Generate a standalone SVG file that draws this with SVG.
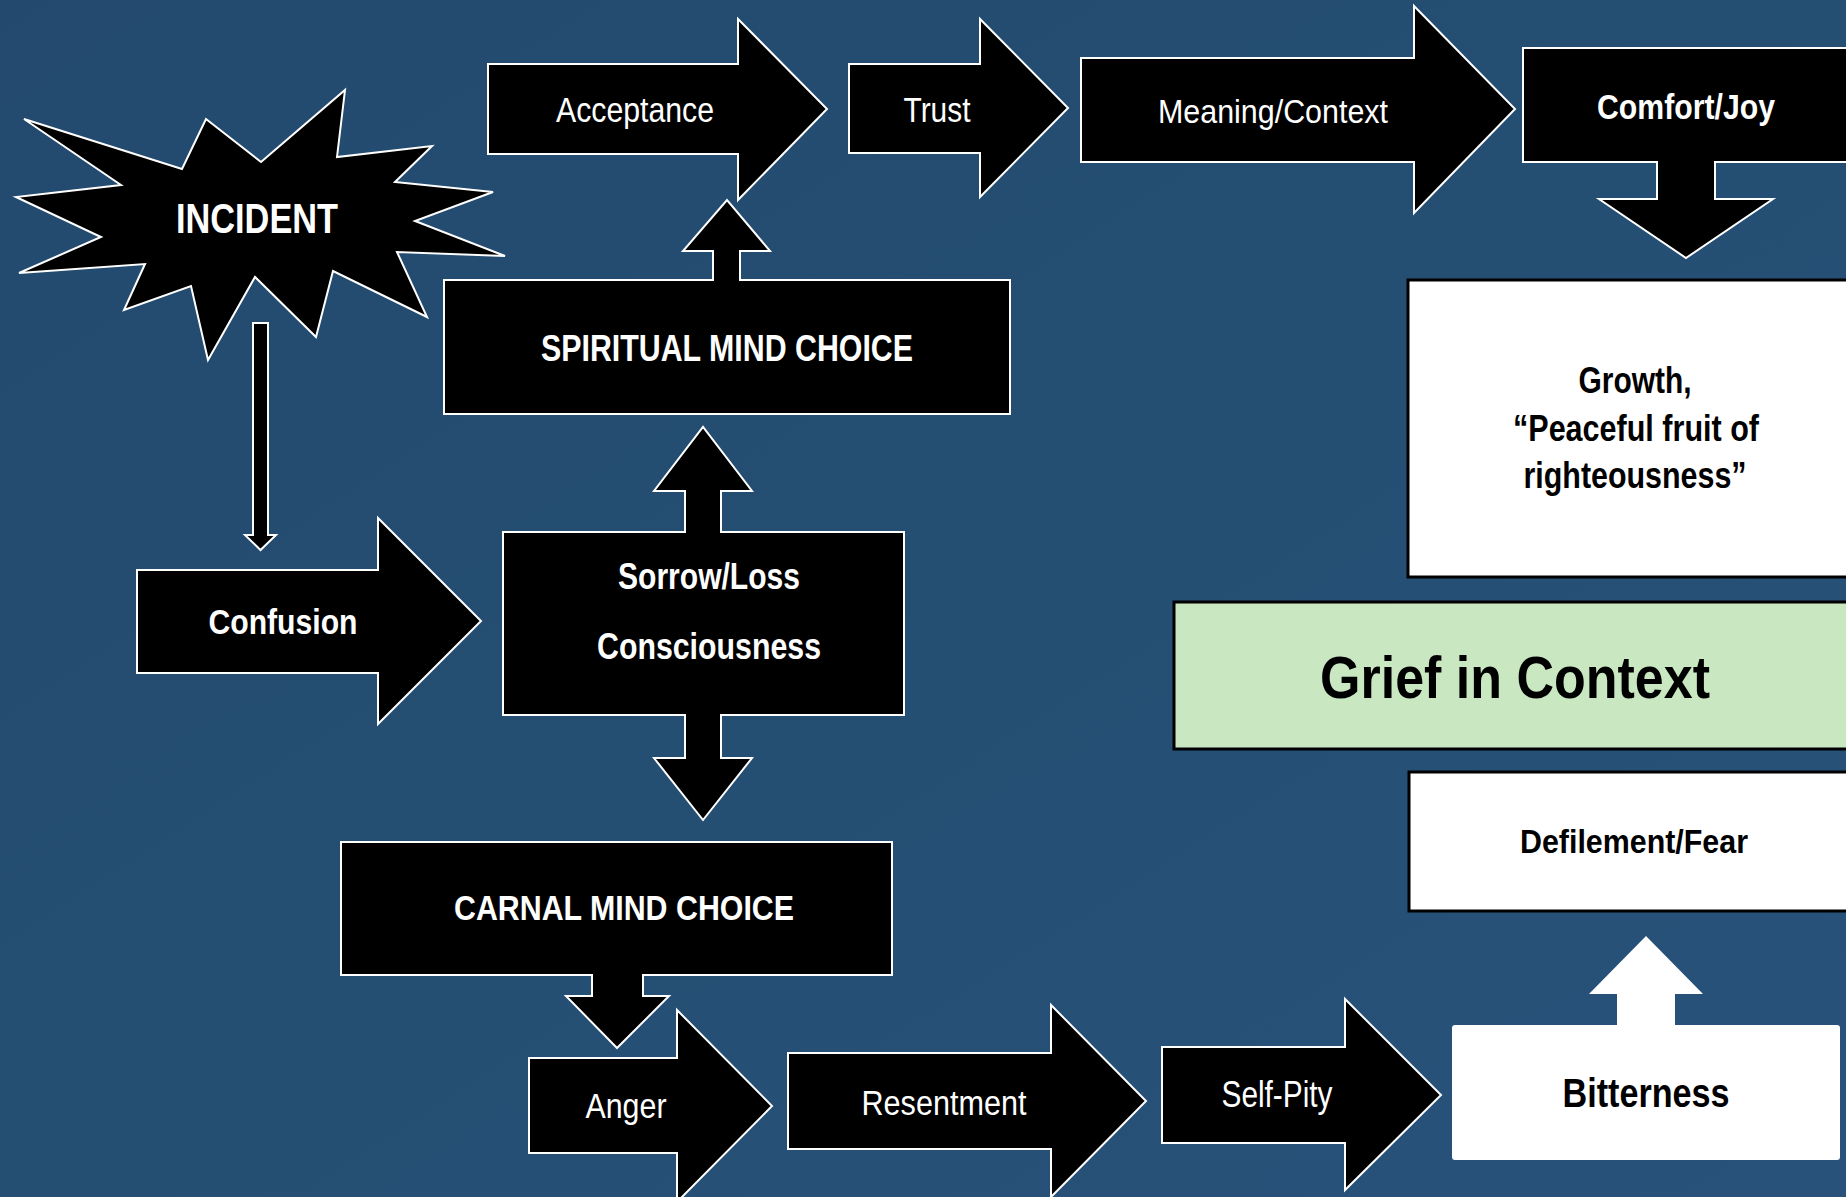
<svg xmlns="http://www.w3.org/2000/svg" width="1846" height="1197" viewBox="0 0 1846 1197">
<defs>
<linearGradient id="bg" x1="0" y1="0" x2="1" y2="1">
<stop offset="0" stop-color="#234a6e"/>
<stop offset="0.5" stop-color="#254e73"/>
<stop offset="1" stop-color="#28527a"/>
</linearGradient>
<style>
.blk{fill:#000;stroke:#fff;stroke-width:2;stroke-linejoin:miter}
.wbox{fill:#fff;stroke:#000;stroke-width:3}
.wt{fill:#fff;font-family:"Liberation Sans",Arial,sans-serif;text-anchor:middle}
.bt{fill:#000;font-family:"Liberation Sans",Arial,sans-serif;text-anchor:middle;font-weight:bold}
.b{font-weight:bold}
</style>
</defs>
<rect x="0" y="0" width="1846" height="1197" fill="url(#bg)"/>

<g id="connectors">
<polygon class="blk" points="253,323 268,323 268,535 276,535 260.5,550 245,535 253,535"/>
</g>

<g id="incident">
<polygon class="blk" points="24,119 182,169 206,119 261,162 345,90 337,157 432,146 395,182 493,192 415,221 505,256 397,252 427,317 333,271 316,337 255,277 208,360 191,286 124,310 145,264 19,273 101,237 16,197 121,185"/>
<text class="wt b" x="257" y="233" font-size="43" textLength="162" lengthAdjust="spacingAndGlyphs">INCIDENT</text>
</g>

<g id="acceptance">
<polygon class="blk" points="488,64 738,64 738,19 827,109 738,200 738,154 488,154"/>
<text class="wt" x="635" y="122" font-size="35" textLength="158" lengthAdjust="spacingAndGlyphs">Acceptance</text>
</g>

<g id="trust">
<polygon class="blk" points="849,64 980,64 980,19 1068,108 980,197 980,153 849,153"/>
<text class="wt" x="937" y="122" font-size="35" textLength="67" lengthAdjust="spacingAndGlyphs">Trust</text>
</g>

<g id="meaning">
<polygon class="blk" points="1081,58 1414,58 1414,6 1515,109 1414,213 1414,162 1081,162"/>
<text class="wt" x="1273" y="123" font-size="34" textLength="230" lengthAdjust="spacingAndGlyphs">Meaning/Context</text>
</g>

<g id="comfort">
<polygon class="blk" points="1523,48 1850,48 1850,162 1715,162 1715,199 1773,199 1686,258 1599,199 1657,199 1657,162 1523,162"/>
<text class="wt b" x="1686" y="119" font-size="35" textLength="178" lengthAdjust="spacingAndGlyphs">Comfort/Joy</text>
</g>

<g id="spiritual">
<polygon class="blk" points="444,280 713,280 713,251 683,251 727,200 770,251 740,251 740,280 1010,280 1010,414 444,414"/>
<text class="wt b" x="727" y="361" font-size="36" textLength="372" lengthAdjust="spacingAndGlyphs">SPIRITUAL MIND CHOICE</text>
</g>

<g id="sorrow">
<polygon class="blk" points="503,532 685,532 685,491 654,491 703,427 752,491 721,491 721,532 904,532 904,715 721,715 721,758 752,758 703,820 654,758 685,758 685,715 503,715"/>
<text class="wt b" x="709" y="589" font-size="36" textLength="182" lengthAdjust="spacingAndGlyphs">Sorrow/Loss</text>
<text class="wt b" x="709" y="659" font-size="36" textLength="224" lengthAdjust="spacingAndGlyphs">Consciousness</text>
</g>

<g id="confusion">
<polygon class="blk" points="137,570 378,570 378,518 481,621 378,724 378,673 137,673"/>
<text class="wt b" x="283" y="634" font-size="35" textLength="149" lengthAdjust="spacingAndGlyphs">Confusion</text>
</g>

<g id="carnal">
<polygon class="blk" points="341,842 892,842 892,975 643,975 643,996 669,996 617,1048 566,996 592,996 592,975 341,975"/>
<text class="wt b" x="624" y="920" font-size="35" textLength="340" lengthAdjust="spacingAndGlyphs">CARNAL MIND CHOICE</text>
</g>

<g id="anger">
<polygon class="blk" points="529,1058 677,1058 677,1010 772,1106 677,1202 677,1153 529,1153"/>
<text class="wt" x="626" y="1118" font-size="35" textLength="81" lengthAdjust="spacingAndGlyphs">Anger</text>
</g>

<g id="resentment">
<polygon class="blk" points="788,1053 1051,1053 1051,1005 1146,1101 1051,1197 1051,1149 788,1149"/>
<text class="wt" x="944" y="1115" font-size="35" textLength="165" lengthAdjust="spacingAndGlyphs">Resentment</text>
</g>

<g id="selfpity">
<polygon class="blk" points="1162,1047 1345,1047 1345,999 1441,1095 1345,1190 1345,1143 1162,1143"/>
<text class="wt" x="1277" y="1107" font-size="36" textLength="111" lengthAdjust="spacingAndGlyphs">Self-Pity</text>
</g>

<g id="bitterness">
<path d="M1455,1025 L1617,1025 L1617,994 L1589,994 L1646,936 L1703,994 L1675,994 L1675,1025 L1837,1025 Q1840,1025 1840,1028 L1840,1157 Q1840,1160 1837,1160 L1455,1160 Q1452,1160 1452,1157 L1452,1028 Q1452,1025 1455,1025 Z" fill="#fff"/>
<text class="bt" x="1646" y="1107" font-size="40" textLength="167" lengthAdjust="spacingAndGlyphs">Bitterness</text>
</g>

<g id="defilement">
<rect class="wbox" x="1409" y="772" width="445" height="139"/>
<text class="bt" x="1634" y="853" font-size="33" textLength="228" lengthAdjust="spacingAndGlyphs">Defilement/Fear</text>
</g>

<g id="grief">
<rect x="1174" y="602" width="680" height="147" fill="#c9e7c1" stroke="#000" stroke-width="3"/>
<text class="bt" x="1515" y="698" font-size="60" textLength="390" lengthAdjust="spacingAndGlyphs">Grief in Context</text>
</g>

<g id="growth">
<rect class="wbox" x="1408" y="280" width="446" height="297"/>
<text class="bt" x="1635" y="393" font-size="36" textLength="113" lengthAdjust="spacingAndGlyphs">Growth,</text>
<text class="bt" x="1636" y="441" font-size="36" textLength="246" lengthAdjust="spacingAndGlyphs">“Peaceful fruit of</text>
<text class="bt" x="1635" y="488" font-size="36" textLength="223" lengthAdjust="spacingAndGlyphs">righteousness”</text>
</g>
</svg>
